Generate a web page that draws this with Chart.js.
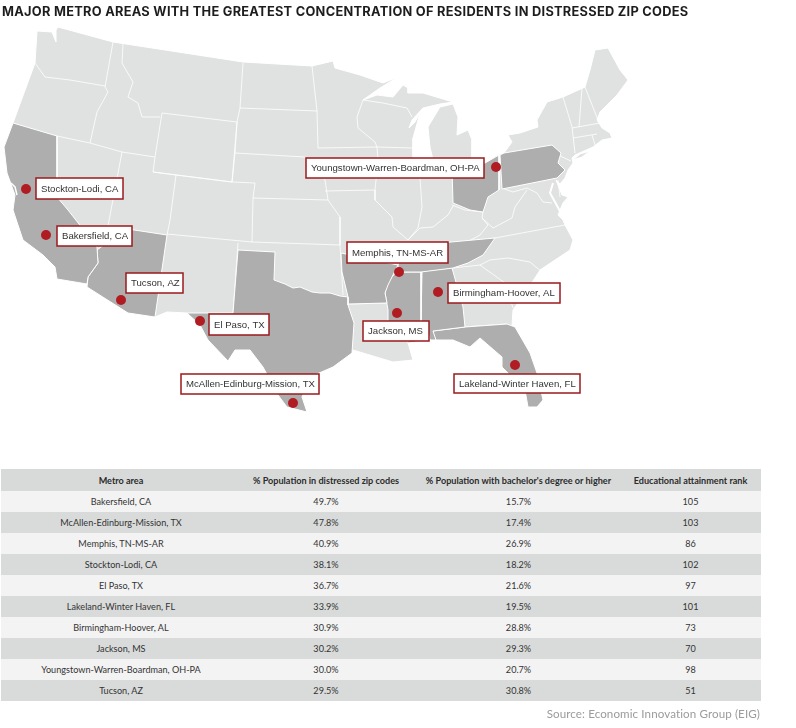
<!DOCTYPE html>
<html>
<head>
<meta charset="utf-8">
<script src="https://cdn.jsdelivr.net/npm/chart.js@4"></script>
<style>
  html, body { margin: 0; padding: 0; background: #fff; }
  #wrap { position: relative; width: 796px; height: 728px; overflow: hidden; }
  #map { position: absolute; left: 0; top: 0; }
  #title { position: absolute; left: 2px; top: 4px; font: 700 12.8px Inter, sans-serif; letter-spacing: 0.28px; color: #1d1d1d; white-space: nowrap; }
  #tbl { position: absolute; left: 1px; top: 469px; width: 760px; height: 232px; border-collapse: collapse; table-layout: fixed; font: 400 9.1px Lato, sans-serif; color: #333; }
  #tbl th, #tbl td { padding: 0; text-align: center; height: 21px; }
  #tbl th { height: 22px; font-weight: 700; background: #d8dad9; color: #2b2b2b; }
  #tbl th:last-child, #tbl td:last-child { padding-right: 6px; }
  #tbl tbody tr:nth-child(odd) { background: #f3f3f3; }
  #tbl tbody tr:nth-child(even) { background: #d9dbda; }
  #source { position: absolute; right: 36px; top: 707px; font: 400 11.6px Lato, sans-serif; letter-spacing: 0.1px; color: #9b9b9b; white-space: nowrap; }
</style>
</head>
<body>
<div id="wrap">
  <canvas id="map" width="796" height="728"></canvas>
  <div id="title">MAJOR METRO AREAS WITH THE GREATEST CONCENTRATION OF RESIDENTS IN DISTRESSED ZIP CODES</div>
  <table id="tbl"><colgroup><col style="width:240px"><col style="width:170px"><col style="width:215px"><col style="width:135px"></colgroup><thead><tr id="head"></tr></thead><tbody id="rows"></tbody></table>
  <div id="source">Source: Economic Innovation Group (EIG)</div>
</div>
<script>
(function () {
  "use strict";

  // table
  const columns = ["Metro area", "% Population in distressed zip codes", "% Population with bachelor's degree or higher", "Educational attainment rank"];
  const metros = ["Bakersfield, CA", "McAllen-Edinburg-Mission, TX", "Memphis, TN-MS-AR", "Stockton-Lodi, CA", "El Paso, TX", "Lakeland-Winter Haven, FL", "Birmingham-Hoover, AL", "Jackson, MS", "Youngstown-Warren-Boardman, OH-PA", "Tucson, AZ"];
  const distressed = ["49.7%", "47.8%", "40.9%", "38.1%", "36.7%", "33.9%", "30.9%", "30.2%", "30.0%", "29.5%"];
  const bachelors = ["15.7%", "17.4%", "26.9%", "18.2%", "21.6%", "19.5%", "28.8%", "29.3%", "20.7%", "30.8%"];
  const ranks = [105, 103, 86, 102, 97, 101, 73, 70, 98, 51];

  // metro markers, same order as metros (map units)
  const metroX = [46, 293, 399, 26, 200, 515, 438, 397, 496, 121];
  const metroY = [235, 403, 272, 189, 321, 365, 292, 313, 167, 300];

  // map outline and states, [x, y] in map units
  const usOutline = [[37,31],[52,32],[56,42],[56,30],[58,27],[113,42],[243,62],[312,66],[333,61],[335,68],[360,75],[383,83],[398,77],[380,88],[363,100],[377,95],[393,97],[403,85],[408,88],[408,93],[423,93],[453,102],[440,104],[423,108],[412,120],[409,128],[415,122],[420,113],[413,138],[413,157],[420,160],[433,160],[430,147],[428,127],[440,107],[453,104],[458,117],[457,135],[468,130],[472,140],[472,160],[474,168],[485,163],[497,155],[504,153],[512,142],[508,135],[520,133],[538,127],[537,120],[547,102],[563,97],[585,87],[590,70],[595,50],[608,48],[620,70],[628,80],[617,95],[600,112],[597,120],[602,128],[610,133],[612,138],[602,140],[593,147],[575,155],[572,158],[573,163],[568,170],[565,178],[560,184],[556,180],[562,195],[568,197],[563,203],[558,215],[563,220],[565,225],[573,240],[570,250],[540,270],[535,278],[513,310],[512,325],[515,327],[530,353],[537,373],[543,400],[537,407],[528,407],[525,390],[502,367],[502,357],[480,338],[470,347],[453,340],[433,340],[408,343],[413,360],[393,362],[353,350],[333,367],[310,377],[302,397],[307,412],[287,407],[278,395],[263,367],[250,350],[235,350],[228,361],[208,340],[200,325],[187,313],[167,312],[155,317],[128,313],[87,287],[87,284],[57,279],[55,267],[43,255],[23,240],[13,210],[15,195],[7,173],[4,147],[13,123],[35,63],[37,31]];
  const longIsland = [[573,160],[580,154],[590,151],[582,157],[573,160]];

  const california = [[13,123],[57,136],[57,197],[68,210],[97,247],[98,263],[88,277],[87,284],[57,279],[55,267],[43,255],[23,240],[13,210],[15,195],[7,173],[4,147],[13,123]];
  const arizona = [[108,226],[167,235],[155,317],[128,313],[87,287],[88,277],[98,263],[97,250],[105,244],[108,226]];
  const texas = [[238,250],[275,252],[274,280],[285,284],[293,288],[300,287],[312,292],[320,293],[330,293],[340,296],[348,297],[348,305],[354,323],[352,353],[333,367],[310,377],[302,397],[307,412],[287,407],[278,395],[263,367],[250,350],[235,350],[228,361],[208,340],[200,325],[187,313],[233,313],[238,250]];
  const arkansas = [[341,253],[398,265],[388,285],[385,293],[387,303],[348,304],[348,297],[342,272],[341,253]];
  const tennessee = [[398,265],[405,247],[440,243],[495,238],[483,255],[468,263],[453,268],[421,272],[398,272],[398,265]];
  const mississippi = [[397,272],[421,272],[421,325],[430,340],[408,343],[407,332],[388,325],[388,310],[385,293],[388,280],[397,272]];
  const alabama = [[422,271],[452,268],[463,307],[465,327],[433,331],[436,340],[430,340],[427,327],[421,325],[422,271]];
  const florida = [[433,331],[465,327],[507,324],[515,327],[530,353],[537,373],[543,400],[537,407],[528,407],[525,390],[502,367],[502,357],[480,338],[470,347],[453,340],[433,340],[433,331]];
  const ohio = [[452,168],[473,168],[485,163],[499,155],[499,190],[488,197],[483,212],[470,210],[453,203],[452,168]];
  const pennsylvania = [[500,155],[504,153],[552,145],[561,153],[558,163],[565,170],[557,178],[502,189],[500,155]];
  const shadedStates = [california, arizona, texas, arkansas, tennessee, mississippi, alabama, florida, ohio, pennsylvania];

  const stateBorders = [
    [[113,42],[105,87]], [[35,63],[45,77],[70,80],[105,86]],
    [[105,87],[108,92],[97,112],[90,143]], [[57,136],[90,143],[122,152],[155,157]],
    [[123,44],[122,63],[133,82],[128,97],[138,103],[142,117],[160,117]],
    [[162,113],[155,157]], [[122,152],[108,226]], [[155,157],[153,172],[176,175],[170,220],[167,235]],
    [[162,113],[237,122],[232,182],[153,172]], [[243,63],[240,108],[237,122],[235,153],[232,182]],
    [[240,108],[317,111]], [[312,66],[317,111],[318,148]], [[235,153],[305,157],[325,180],[328,200],[340,217],[340,245]],
    [[176,175],[232,182],[255,183],[253,198],[252,242]], [[253,198],[328,200]], [[167,234],[252,242],[340,245]],
    [[238,243],[233,313]], [[340,245],[343,295]], [[318,148],[377,147]],
    [[363,100],[357,117],[358,128],[375,142],[377,147],[378,160],[375,190],[375,200],[377,202],[392,217],[393,227],[408,240]],
    [[363,100],[383,103],[407,108],[412,117]], [[377,147],[413,148]], [[325,191],[375,190]],
    [[418,158],[420,178],[422,207],[418,228],[408,240]], [[408,240],[420,228],[433,227],[448,215],[453,206]],
    [[343,258],[405,252]], [[452,205],[465,210],[483,212],[482,218],[488,225],[480,235],[467,242]],
    [[467,242],[495,238],[565,225]], [[482,218],[493,228],[512,218],[515,207],[527,190]],
    [[527,188],[537,193],[543,202],[552,203]], [[502,188],[513,192],[527,188]], [[558,180],[560,197]],
    [[453,268],[480,265],[490,260],[508,258],[530,262],[543,273]], [[480,265],[505,283],[513,308]], [[463,327],[507,324]],
    [[348,304],[387,303]], [[563,97],[572,127],[575,153]], [[558,155],[571,161]],
    [[582,88],[579,127]], [[572,128],[600,123]], [[573,138],[597,134]], [[592,135],[595,145]], [[585,87],[598,120]]
  ];
  const chesapeake = [[553,183],[550,193],[555,202],[562,215]];
  const sfBay = [[11,183],[15,187],[17,195]];

  // label boxes: [left, top, right, bottom] in map units, same order as metros
  const labelBoxes = [[57,226,132,246],[181,374,319,394],[347,242,448,263],[36,178,123,199],[209,314,269,335],[454,374,580,393],[448,283,560,303],[363,321,429,341],[306,158,484,178],[126,273,183,293]];

  const head = document.getElementById("head");
  columns.forEach((c) => {
    const th = document.createElement("th");
    th.textContent = c;
    head.appendChild(th);
  });
  let rowsHtml = "";
  metros.forEach((m, i) => {
    rowsHtml += `<tr><td>${m}</td><td>${distressed[i]}</td><td>${bachelors[i]}</td><td>${ranks[i]}</td></tr>`;
  });
  document.getElementById("rows").innerHTML = rowsHtml;

  const toPoints = (list) => list.map((p) => ({ x: p[0], y: p[1] }));

  function polygon(list, fillColor, order) {
    return {
      data: toPoints(list), showLine: true, fill: "shape", tension: 0,
      backgroundColor: fillColor, borderColor: "#ffffff", borderWidth: 1, pointRadius: 0, order: order,
    };
  }
  function border(list, width, order) {
    return {
      data: toPoints(list), showLine: true, fill: false, tension: 0,
      borderColor: "#ffffff", borderWidth: width, pointRadius: 0, order: order,
    };
  }

  const datasets = [
    polygon(usOutline, "#e0e1e1", 5),
    polygon(longIsland, "#e0e1e1", 5),
    border(chesapeake, 2, 4),
    border(sfBay, 1.5, 2),
  ];
  stateBorders.forEach((b) => datasets.push(border(b, 0.8, 4)));
  shadedStates.forEach((s) => datasets.push(polygon(s, "#aeaeae", 3)));
  datasets.push({
    data: metroX.map((x, i) => ({ x: x, y: metroY[i] })),
    showLine: false, pointRadius: 5, pointBackgroundColor: "#b01c22", pointBorderColor: "#b01c22", pointBorderWidth: 0, order: 1,
  });

  const metroLabels = {
    id: "metroLabels",
    afterDatasetsDraw(chart) {
      const ctx = chart.ctx, sx = chart.scales.x, sy = chart.scales.y;
      ctx.save();
      ctx.font = '9.6px "Liberation Sans", Arial, sans-serif';
      ctx.textBaseline = "middle";
      metros.forEach((name, i) => {
        const b = labelBoxes[i];
        const l = sx.getPixelForValue(b[0]), t = sy.getPixelForValue(b[1]);
        const r = sx.getPixelForValue(b[2]), bt = sy.getPixelForValue(b[3]);
        ctx.fillStyle = "#ffffff";
        ctx.fillRect(l, t, r - l, bt - t);
        ctx.strokeStyle = "#9a1a1e";
        ctx.lineWidth = 1.5;
        ctx.strokeRect(l, t, r - l, bt - t);
        ctx.fillStyle = "#333333";
        ctx.fillText(name, l + 5, (t + bt) / 2 + 0.5);
      });
      ctx.restore();
    },
  };

  new Chart(document.getElementById("map"), {
    type: "scatter",
    data: { datasets: datasets },
    options: {
      responsive: false,
      animation: false,
      devicePixelRatio: 1,
      layout: { padding: 0, autoPadding: false },
      plugins: { legend: { display: false }, tooltip: { enabled: false } },
      scales: {
        x: { type: "linear", min: 0, max: 796, display: false },
        y: { type: "linear", min: 0, max: 728, reverse: true, display: false },
      },
    },
    plugins: [metroLabels],
  });
})();
</script>
</body>
</html>
